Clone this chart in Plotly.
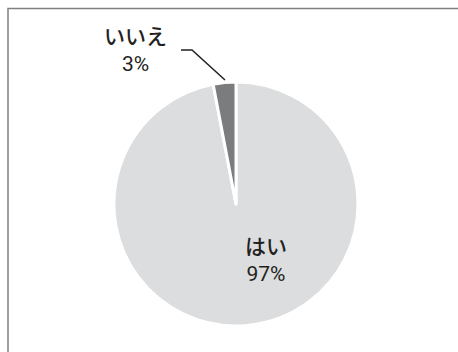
import plotly.graph_objects as go

labels = ["はい", "いいえ"]
values = [97, 3]
colors = ["#dcdddf", "#7b7c7e"]
pct_text = ["97%", "3%"]

W, H = 458, 352

def px(x):
    return x / W

def py(y):
    return 1 - y / H

cx, cy, r = 236, 204, 122

fig = go.Figure(go.Pie(
    labels=labels,
    values=values,
    sort=False,
    direction="clockwise",
    rotation=0,
    marker=dict(colors=colors, line=dict(color="white", width=3)),
    textinfo="none",
    hoverinfo="label+percent",
    showlegend=False,
    domain=dict(x=[px(cx - r), px(cx + r)], y=[py(cy + r), py(cy - r)]),
))

font = dict(family="Roboto, 'Noto Sans CJK JP', sans-serif", size=21,
            color="#231f20", weight=400)

label_pos = [(266, 260), (135, 50)]
annotations = []
for lab, pt, (x, y) in zip(labels, pct_text, label_pos):
    annotations.append(dict(
        x=px(x), y=py(y), xref="paper", yref="paper",
        text=f"<span style='font-weight:500'>{lab}</span><br>{pt}",
        showarrow=False, font=font,
        align="center", xanchor="center", yanchor="middle",
    ))

# leader line for small slice
pts = [(181, 50), (192, 50), (225, 80)]
path = "M " + " L ".join(f"{px(x)},{py(y)}" for x, y in pts)

shapes = [
    dict(type="path", path=path, xref="paper", yref="paper",
         line=dict(color="#231f20", width=1.5)),
    dict(type="rect", xref="paper", yref="paper",
         x0=px(8), x1=px(470), y0=py(365), y1=py(8.5),
         line=dict(color="#808080", width=1.5), fillcolor="rgba(0,0,0,0)"),
]

fig.update_layout(
    width=W, height=H,
    margin=dict(l=0, r=0, t=0, b=0),
    paper_bgcolor="white",
    plot_bgcolor="white",
    annotations=annotations,
    shapes=shapes,
)

fig.write_html("out.html")
